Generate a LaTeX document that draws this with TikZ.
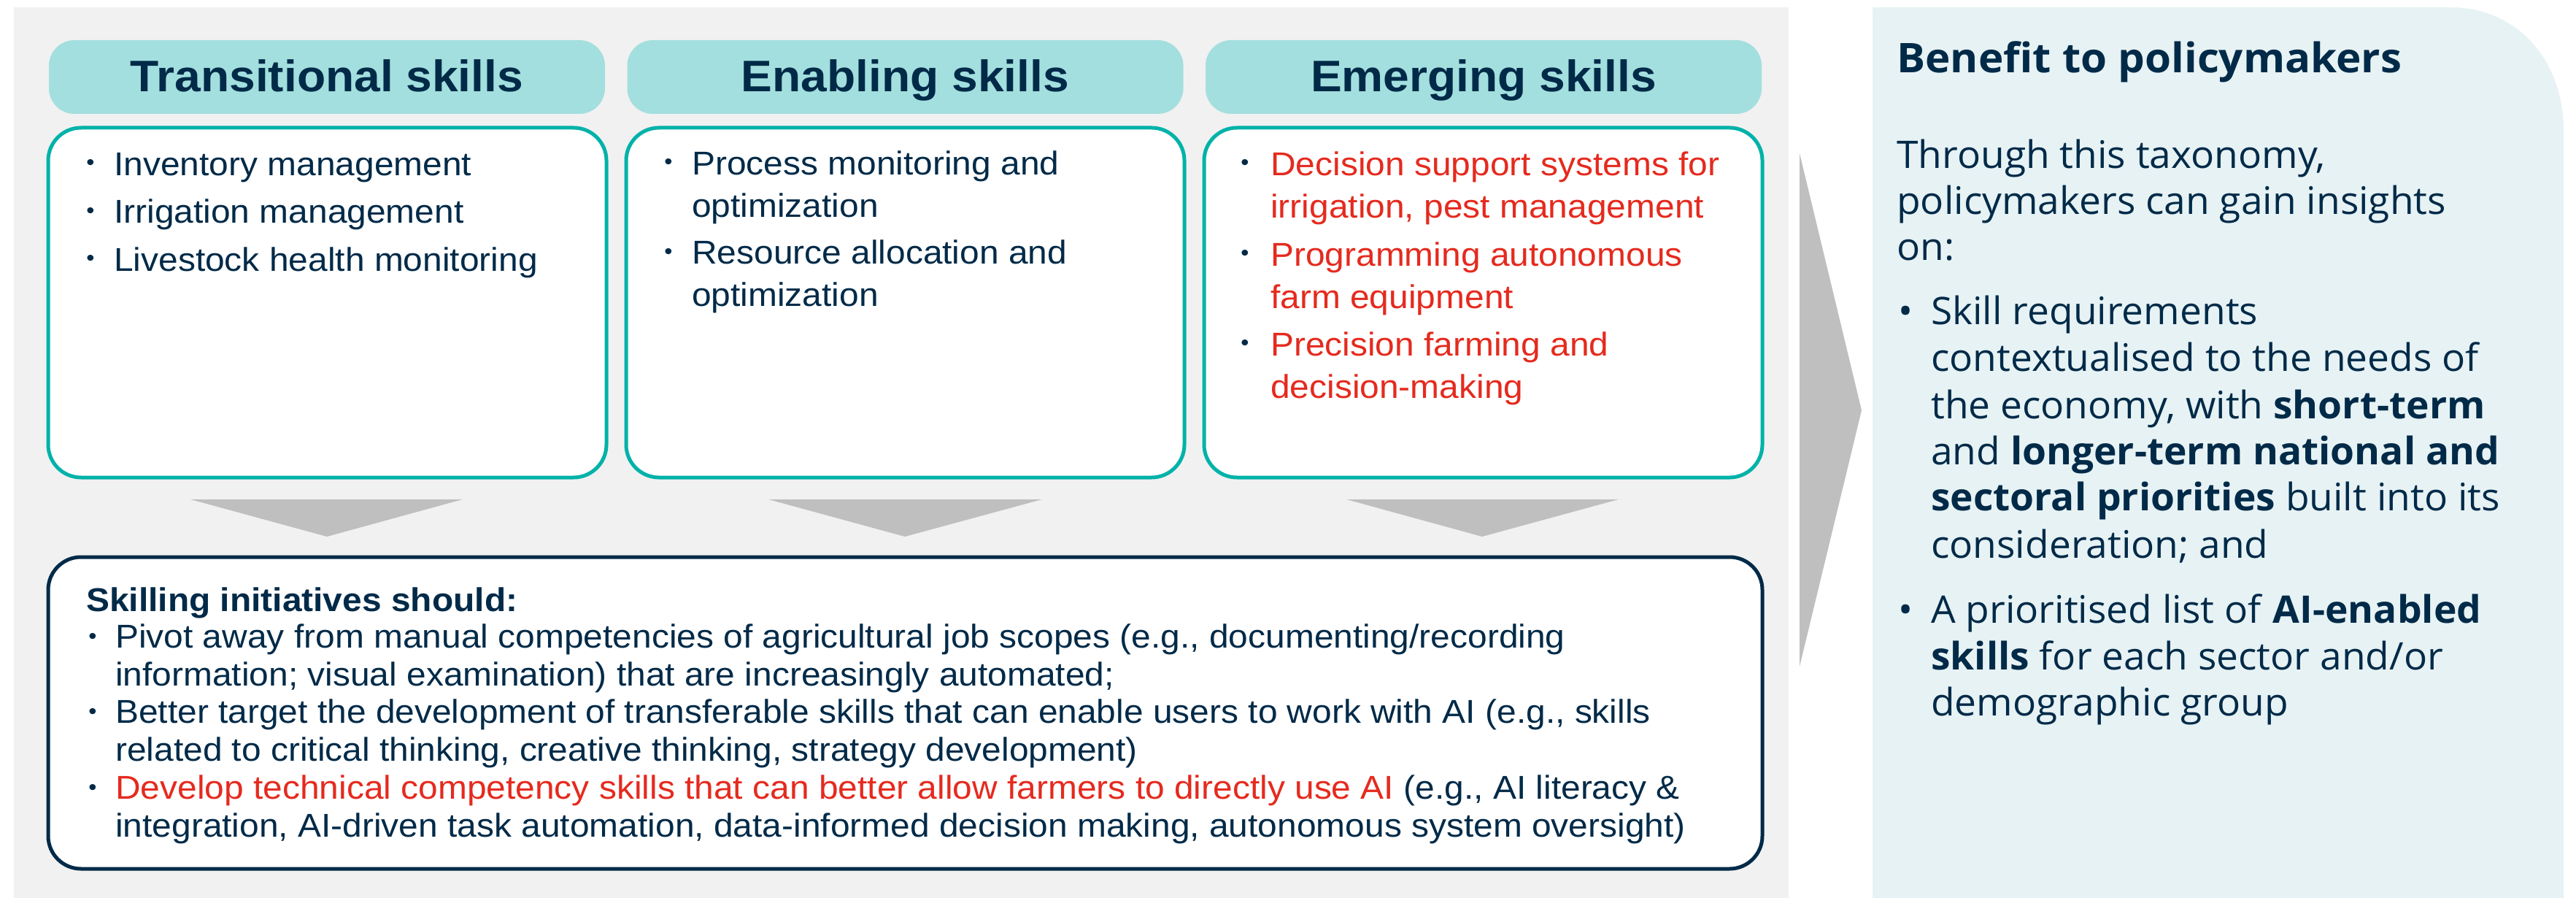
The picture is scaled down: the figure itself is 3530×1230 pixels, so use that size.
\documentclass[tikz,border=0pt]{standalone}
\usepackage{fontspec}
\newfontfamily\arialf[FakeStretch=1.06]{Liberation Sans}
\newfontfamily\opensf[FakeStretch=1.025]{Open Sans}
\newfontfamily\opensft[FakeStretch=1.04]{Open Sans}

\definecolor{inknavy}{HTML}{002A48}
\definecolor{tealline}{HTML}{00B2A9}
\definecolor{tealfill}{HTML}{A3DFDE}
\definecolor{panelgray}{HTML}{F1F1F1}
\definecolor{arrowgray}{HTML}{BFBFBF}
\definecolor{benefitbg}{HTML}{E7F2F4}
\definecolor{hotred}{HTML}{E52A1E}

\begin{document}
\begin{tikzpicture}[x=1pt,y=-1pt,
  hdrbox/.style={draw=none, fill=tealfill, rounded corners=35pt, minimum width=762pt, minimum height=101pt, inner sep=0pt},
  hdrtxt/.style={anchor=base, inner sep=0pt, text=inknavy, font=\arialf\bfseries\fontsize{60.5}{61}\selectfont},
  skillbox/.style={draw=tealline, line width=5pt, fill=white, rounded corners=45pt, minimum width=765pt, minimum height=479pt, inner sep=0pt},
  initbox/.style={draw=inknavy, line width=5pt, fill=white, rounded corners=45pt, minimum width=2349pt, minimum height=427pt, inner sep=0pt},
  ta/.style={anchor=base west, inner sep=0pt, text=inknavy, font=\arialf\fontsize{45.2}{54}\selectfont},
  tr/.style={ta, text=hotred},
  tb/.style={ta, font=\arialf\bfseries\fontsize{45.2}{54}\selectfont},
  dotb/.style={anchor=center, inner sep=0pt, text=inknavy, font=\arialf\fontsize{30}{30}\selectfont},
  ob/.style={anchor=base west, inner sep=0pt, text=inknavy, font=\opensf\fontsize{52}{64}\selectfont},
  obt/.style={ob, font=\opensft\bfseries\fontsize{56}{64}\selectfont},
  obdot/.style={anchor=base, inner sep=0pt, text=inknavy, font=\opensf\fontsize{52}{64}\selectfont},
  chevron/.style={fill=arrowgray}
]
\useasboundingbox (0,0) rectangle (3530,1230);
\fill[white] (0,0) rectangle (3530,1230);

% grey panel holding the three skill columns
\fill[panelgray] (19,10) rectangle (2451,1230);

% light panel on the right with one rounded corner
\fill[benefitbg] (2566,1230) -- (2566,10) -- (3358,10)
  .. controls (3443.6,10) and (3513,76.2) .. (3513,180) -- (3513,1230) -- cycle;

% column headers
\node[hdrbox] (h1) at (448,105.5) {};
\node[hdrbox] (h2) at (1240.5,105.5) {};
\node[hdrbox] (h3) at (2033,105.5) {};
\node[hdrtxt] (h1t) at (448,126) {Transitional skills};
\node[hdrtxt] (h2t) at (1240.5,126) {Enabling skills};
\node[hdrtxt] (h3t) at (2033,126) {Emerging skills};

% column bodies
\node[skillbox] (b1) at (448.5,414.5) {};
\node[skillbox] (b2) at (1240.5,414.5) {};
\node[skillbox] (b3) at (2032.5,414.5) {};

% transitional skills
\node[dotb] (b1d1) at (124,226) {•};
\node[ta] (b1l1) at (156,241) {Inventory management};
\node[dotb] (b1d2) at (124,291) {•};
\node[ta] (b1l2) at (156,306) {Irrigation management};
\node[dotb] (b1d3) at (124,356) {•};
\node[ta] (b1l3) at (156,371) {Livestock health monitoring};

% enabling skills
\node[dotb] (b2d1) at (916,225) {•};
\node[ta] (b2l1) at (948,240) {Process monitoring and};
\node[ta] (b2l2) at (948,297.5) {optimization};
\node[dotb] (b2d2) at (916,347) {•};
\node[ta] (b2l3) at (948,362) {Resource allocation and};
\node[ta] (b2l4) at (948,419.5) {optimization};

% emerging skills
\node[dotb] (b3d1) at (1706,226) {•};
\node[tr] (b3l1) at (1741,241) {Decision support systems for};
\node[tr] (b3l2) at (1741,299) {irrigation, pest management};
\node[dotb] (b3d2) at (1706,349) {•};
\node[tr] (b3l3) at (1741,364) {Programming autonomous};
\node[tr] (b3l4) at (1741,422) {farm equipment};
\node[dotb] (b3d3) at (1706,472) {•};
\node[tr] (b3l5) at (1741,487) {Precision farming and};
\node[tr] (b3l6) at (1741,545) {decision-making};

% chevrons from each column into the skilling box
\fill[chevron] (261,684) -- (634,684) -- (448,735) -- cycle;
\fill[chevron] (1053,684) -- (1428,684) -- (1240,735) -- cycle;
\fill[chevron] (1845,684) -- (2218,684) -- (2031,735) -- cycle;

% big arrow towards the benefit panel
\fill[chevron] (2466,210) -- (2551,562) -- (2466,913) -- cycle;

% skilling initiatives
\node[initbox] (sk) at (1240.5,976.5) {};
\node[tb] (skt) at (118,837) {Skilling initiatives should:};
\node[dotb] (skd1) at (127,874) {•};
\node[ta] (skl1) at (158,887) {Pivot away from manual competencies of agricultural job scopes (e.g., documenting/recording};
\node[ta] (skl2) at (158,939) {information; visual examination) that are increasingly automated;};
\node[dotb] (skd2) at (127,977) {•};
\node[ta] (skl3) at (158,990) {Better target the development of transferable skills that can enable users to work with AI (e.g., skills};
\node[ta] (skl4) at (158,1042) {related to critical thinking, creative thinking, strategy development)};
\node[dotb] (skd3) at (127,1081) {•};
\node[ta] (skl5) at (158,1094) {\textcolor{hotred}{Develop technical competency skills that can better allow farmers to directly use AI} (e.g., AI literacy \&};
\node[ta] (skl6) at (158,1146) {integration, AI-driven task automation, data-informed decision making, autonomous system oversight)};

% benefit to policymakers
\node[obt] (bt) at (2599,100) {Benefit to policymakers};
\node[ob] (bp1) at (2599,231) {Through this taxonomy,};
\node[ob] (bp2) at (2599,294) {policymakers can gain insights};
\node[ob] (bp3) at (2599,357) {on:};
\node[obdot] (bd1) at (2611,444) {•};
\node[ob] (bl1) at (2646,444) {Skill requirements};
\node[ob] (bl2) at (2646,508) {contextualised to the needs of};
\node[ob] (bl3) at (2646,573) {the economy, with \textbf{short-term}};
\node[ob] (bl4) at (2646,636) {and \textbf{longer-term national and}};
\node[ob] (bl5) at (2646,699) {\textbf{sectoral priorities} built into its};
\node[ob] (bl6) at (2646,764) {consideration; and};
\node[obdot] (bd2) at (2611,853) {•};
\node[ob] (bl7) at (2646,853) {A prioritised list of \textbf{AI-enabled}};
\node[ob] (bl8) at (2646,917) {\textbf{skills} for each sector and/or};
\node[ob] (bl9) at (2646,980) {demographic group};
\end{tikzpicture}
\end{document}
